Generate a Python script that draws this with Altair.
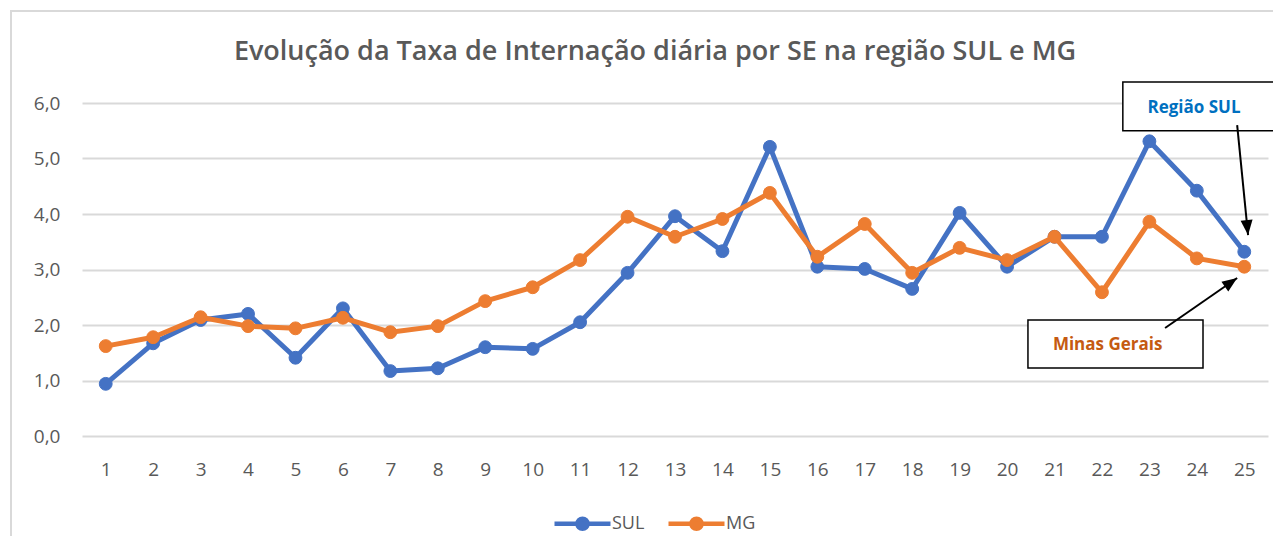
import altair as alt
import pandas as pd

# ---------------- data ----------------
semanas = list(range(1, 26))
sul = [0.94, 1.67, 2.09, 2.20, 1.41, 2.30, 1.17, 1.22, 1.60, 1.57, 2.05, 2.94, 3.96,
       3.33, 5.21, 3.05, 3.01, 2.65, 4.02, 3.05, 3.59, 3.59, 5.31, 4.42, 3.32]
mg = [1.62, 1.78, 2.14, 1.98, 1.94, 2.13, 1.87, 1.98, 2.43, 2.68, 3.17, 3.95, 3.59,
      3.91, 4.38, 3.23, 3.82, 2.94, 3.39, 3.17, 3.59, 2.59, 3.86, 3.20, 3.05]
series = ["SUL", "MG"]
colors = ["#4472C4", "#ED7D31"]
y_ticks = [0, 1, 2, 3, 4, 5, 6]
title_text = "Evolução da Taxa de Internação diária por SE na região SUL e MG"

df = pd.DataFrame({
    "SE": semanas * 2,
    "taxa": sul + mg,
    "serie": ["SUL"] * len(semanas) + ["MG"] * len(semanas),
})

# annotations (data coordinates)
boxes = pd.DataFrame({
    "x": [22.44, 20.44], "x2": [25.86, 24.13],
    "y": [5.50, 1.225], "y2": [6.38, 2.09],
})
labels = pd.DataFrame({
    "x": [23.94, 22.12], "y": [5.82, 1.55],
    "txt": ["Região SUL", "Minas Gerais"],
    "cor": ["#0070C0", "#C55A11"],
})
arrows = pd.DataFrame({
    "x": [24.85, 23.33], "y": [5.60, 1.946],
    "x2": [25.08, 24.85], "y2": [3.62, 2.847],
    "ang": [354.3, 235.2],
})

W, H = 1186, 333
FONT = "Open Sans"
TXT = "#595959"

x_scale = alt.Scale(domain=[0.5, 25.5], nice=False, zero=False)
y_scale = alt.Scale(domain=[0, 6], nice=False)
c_scale = alt.Scale(domain=series, range=colors)

legend_path = "M-2,0L2,0M0.36,0A0.36,0.36,0,1,1,-0.36,0A0.36,0.36,0,1,1,0.36,0Z"
legend = alt.Legend(
    title=None, orient="none", legendX=484, legendY=404,
    direction="horizontal", symbolType=legend_path, symbolSize=784,
    symbolStrokeWidth=4.5, labelOffset=13, columnPadding=14,
    labelFont=FONT, labelFontSize=18, labelColor=TXT, symbolOpacity=1,
)
stroke_enc = alt.Stroke("serie:N", scale=c_scale, sort=series, legend=legend)
fill_enc = alt.Fill("serie:N", scale=c_scale, sort=series, legend=legend)

x_enc = alt.X("SE:Q", scale=x_scale, axis=alt.Axis(
    values=semanas, title=None, grid=False, domain=False, ticks=False,
    labelFont=FONT, labelFontSize=19, labelColor=TXT, labelPadding=24,
    labelFlush=False, labelOverlap=False))
y_enc = alt.Y("taxa:Q", scale=y_scale, axis=alt.Axis(
    values=y_ticks, title=None, grid=True, gridColor="#D9D9D9", gridWidth=1.8,
    domain=False, ticks=False, labelFont=FONT, labelFontSize=19, labelColor=TXT,
    labelPadding=22, labelExpr="replace(format(datum.value, '.1f'), '.', ',')"))

base = alt.Chart(df)

layers = []
for s in series:
    sub = base.transform_filter(alt.datum.serie == s)
    layers.append(sub.mark_line(strokeWidth=5, strokeCap="round", strokeJoin="round")
                  .encode(x=x_enc, y=y_enc, stroke=stroke_enc))
    layers.append(sub.mark_point(filled=True, size=165, opacity=1, shape="circle", strokeWidth=1)
                  .encode(x=x_enc, y=y_enc, fill=fill_enc, stroke=stroke_enc))

border = alt.Chart(alt.Data(values=[{}])).mark_rect(
    fill=None, stroke="#D9D9D9", strokeWidth=2
).encode(x=alt.value(-71), x2=alt.value(1300), y=alt.value(-92), y2=alt.value(600))

title_layer = alt.Chart(alt.Data(values=[{"t": title_text}])).mark_text(
    font=FONT, fontSize=27, fontWeight=600, color=TXT, align="center", baseline="alphabetic"
).encode(x=alt.value(573), y=alt.value(-43), text="t:N")

box_layer = alt.Chart(boxes).mark_rect(fill="white", stroke="black", strokeWidth=1.5).encode(
    x=alt.X("x:Q", scale=x_scale), x2="x2:Q",
    y=alt.Y("y:Q", scale=y_scale), y2="y2:Q")

text_layer = alt.Chart(labels).mark_text(
    font=FONT, fontSize=17, fontWeight="bold", baseline="alphabetic", align="center"
).encode(
    x=alt.X("x:Q", scale=x_scale), y=alt.Y("y:Q", scale=y_scale),
    text="txt:N", color=alt.Color("cor:N", scale=None))

arrow_line = alt.Chart(arrows).mark_rule(color="black", strokeWidth=2).encode(
    x=alt.X("x:Q", scale=x_scale), y=alt.Y("y:Q", scale=y_scale),
    x2="x2:Q", y2="y2:Q")

arrow_head = alt.Chart(arrows).mark_point(
    shape="M0,0L-0.8,-2L0.8,-2Z", filled=True, color="black", size=225, opacity=1
).encode(
    x=alt.X("x2:Q", scale=x_scale), y=alt.Y("y2:Q", scale=y_scale),
    angle=alt.Angle("ang:Q", scale=None))

chart = alt.layer(
    border, title_layer, *layers, box_layer, text_layer, arrow_line, arrow_head
).properties(
    width=W, height=H,
    autosize=alt.AutoSizeParams(type="none"),
    padding={"left": 74, "top": 95, "right": 5, "bottom": 100},
).configure_view(stroke=None)

chart.save("out.html", embed_options={"renderer": "svg", "actions": False})
